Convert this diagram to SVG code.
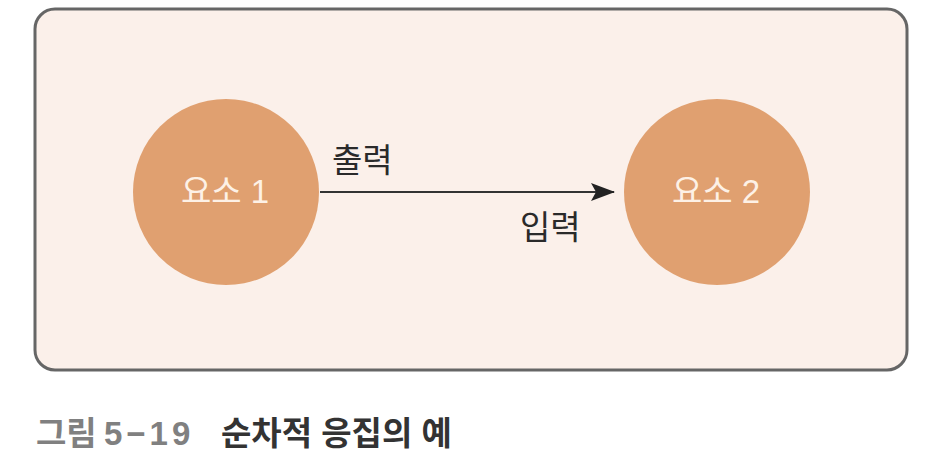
<svg xmlns="http://www.w3.org/2000/svg" width="940" height="454" viewBox="0 0 940 454">
<style>
.node{fill:#e0a070}
.nt{font-family:"Liberation Sans","Noto Sans CJK KR",sans-serif;font-size:33px;fill:#fdf1e6;text-anchor:middle}
.lbl{font-family:"Liberation Sans","Noto Sans CJK KR",sans-serif;font-size:33px;fill:#2a2a2a}
.cap{font-family:"Liberation Sans","Noto Sans CJK KR",sans-serif;font-size:33px;font-weight:bold}
</style>
<defs>
<marker id="arr" markerWidth="24" markerHeight="18" refX="23" refY="9" orient="auto" markerUnits="userSpaceOnUse">
<path d="M0,0 L24,9 L0,18 L5,9 Z" fill="#222"/>
</marker>
</defs>
<rect width="940" height="454" fill="#ffffff"/>
<rect x="35" y="9" width="872" height="361" rx="20" fill="#fbf0ea" stroke="#666" stroke-width="3"/>
<g id="connectors">
<line x1="320" y1="192" x2="614" y2="192" stroke="#333" stroke-width="2" marker-end="url(#arr)"/>
<text class="lbl" x="332" y="172">출력</text>
<text class="lbl" x="520" y="239">입력</text>
</g>
<g id="node1">
<circle class="node" cx="226" cy="192" r="93"/>
<text class="nt" x="225" y="203">요소 1</text>
</g>
<g id="node2">
<circle class="node" cx="717" cy="192" r="93"/>
<text class="nt" x="716" y="203">요소 2</text>
</g>
<g id="caption">
<text class="cap" x="36" y="445" fill="#808080">그림</text>
<text class="cap" x="104" y="445" fill="#808080" letter-spacing="4">5−19</text>
<text class="cap" x="221" y="445" fill="#333">순차적 응집의 예</text>
</g>
</svg>
